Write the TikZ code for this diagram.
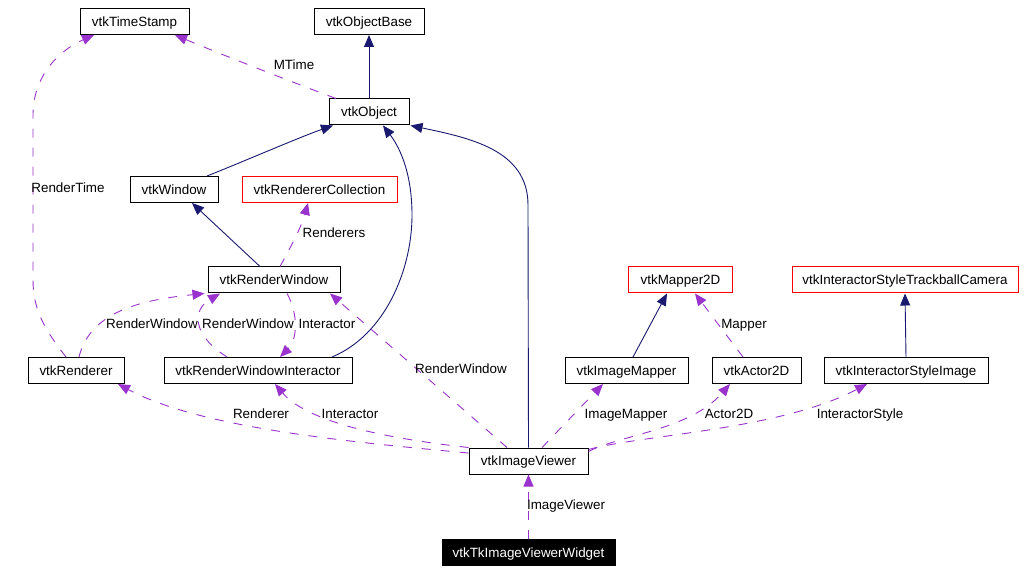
\documentclass[tikz,border=0pt]{standalone}
\usepackage{fontspec}
\setmainfont{Liberation Sans}
\usetikzlibrary{arrows.meta}
\definecolor{inhcol}{HTML}{191970}
\definecolor{usecol}{HTML}{9A32CD}
\tikzset{
  cls/.style={draw=black, line width=1pt, minimum height=26pt, inner sep=0pt, text height=9.6pt, text depth=0pt, font=\fontsize{13.4}{16}\selectfont, fill=white},
  redcls/.style={cls, draw=red},
  blackcls/.style={cls, fill=black, text=white},
  inh/.style={draw=inhcol, line width=0.9pt, -{Triangle[length=12pt,width=10pt]}},
  use/.style={draw=usecol, line width=0.9pt, dash pattern=on 9pt off 10pt, -{Triangle[length=12pt,width=10pt]}},
  lbl/.style={inner sep=0pt, text height=9.6pt, text depth=0pt, font=\fontsize{13.4}{16}\selectfont},
}
\begin{document}
\begin{tikzpicture}[x=1pt,y=-1pt]
\useasboundingbox (0,0) rectangle (1026,572);
\fill[white] (0,0) rectangle (1026,572);

% nodes
\node[cls, minimum width=109pt] (ts) at (134.5,21.5) {vtkTimeStamp};
\node[cls, minimum width=110pt] (objbase) at (369,21.5) {vtkObjectBase};
\node[cls, minimum width=80pt] (obj) at (369,112) {vtkObject};
\node[cls, minimum width=88pt] (win) at (174,189.5) {vtkWindow};
\node[redcls, minimum width=155pt] (rc) at (319.5,189.5) {vtkRendererCollection};
\node[cls, minimum width=132pt] (rw) at (274,280) {vtkRenderWindow};
\node[cls, minimum width=96pt] (rend) at (76,370.5) {vtkRenderer};
\node[cls, minimum width=188pt] (rwi) at (258,370.5) {vtkRenderWindowInteractor};
\node[redcls, minimum width=104pt] (m2d) at (680.5,280) {vtkMapper2D};
\node[redcls, minimum width=226pt] (tc) at (905,280) {vtkInteractorStyleTrackballCamera};
\node[cls, minimum width=123pt] (im) at (626.5,370.5) {vtkImageMapper};
\node[cls, minimum width=89pt] (a2d) at (756.5,370.5) {vtkActor2D};
\node[cls, minimum width=164pt] (isi) at (906,370.5) {vtkInteractorStyleImage};
\node[cls, minimum width=119pt] (iv) at (528.5,461) {vtkImageViewer};
\node[blackcls, minimum width=173pt] (tk) at (528.5,552.5) {vtkTkImageViewerWidget};

% inheritance (solid)
\draw[inh] (obj.north) -- (objbase.south);
\draw[inh] ([xshift=33pt]win.north) .. controls (240,163) and (300,137) .. ([xshift=-36pt]obj.south);
\draw[inh] ([xshift=-14pt]rw.north) -- ([xshift=18pt]win.south);
\draw[inh] ([xshift=74pt]rwi.north) .. controls (385,335) and (412,270) .. (412,215)
   .. controls (412,170) and (398,145) .. ([xshift=14pt]obj.south);
\draw[inh] (iv.north) -- (528,205) .. controls (528,150) and (470,138) .. ([xshift=1pt]obj.south east);
\draw[inh] ([xshift=6.5pt]im.north) -- ([xshift=-13.5pt]m2d.south);
\draw[inh] (isi.north) -- (tc.south);

% usage (dashed)
\draw[use] ([xshift=-33pt]obj.north) .. controls (300,85) and (230,58) .. ([xshift=40.5pt]ts.south);
\draw[use] ([xshift=-10pt]rend.north) .. controls (45,330) and (33,310) .. (33,280) -- (33,115)
   .. controls (33,75) and (60,50) .. ([xshift=-40.5pt]ts.south);
\draw[use] ([xshift=6pt]rw.north) .. controls (292,245) and (302,225) .. ([xshift=-11.5pt]rc.south);
\draw[use] ([xshift=3pt]rend.north) .. controls (90,312) and (140,300) .. ([xshift=-3pt]rw.south west);
\draw[use] ([xshift=-31pt]rwi.north) .. controls (192,335) and (192,310) .. ([xshift=-54pt]rw.south);
\draw[use] ([xshift=13pt]rw.south) .. controls (299,315) and (297,340) .. ([xshift=22pt]rwi.north);
\draw[use] ([xshift=-21.5pt]iv.north) -- ([xshift=56pt]rw.south);
\draw[use] ([yshift=8pt]iv.west) .. controls (350,442) and (200,428) .. ([xshift=42pt]rend.south);
\draw[use] (iv.north west) .. controls (400,440) and (310,425) .. ([xshift=17pt]rwi.south);
\draw[use] ([xshift=13.5pt]iv.north) -- ([xshift=-23.5pt]im.south);
\draw[use] ([yshift=-4pt]iv.north east) .. controls (620,435) and (690,430) .. ([xshift=-26.5pt]a2d.south);
\draw[use] ([yshift=-2pt]iv.north east) .. controls (640,435) and (780,430) .. ([xshift=-39pt]isi.south);
\draw[use] ([xshift=-13.5pt]a2d.north) -- ([xshift=14.5pt]m2d.south);
\draw[use] (tk.north) -- (iv.south);

% labels
\node[lbl] (l1) at (294,65) {MTime};
\node[lbl] (l2) at (68,188) {RenderTime};
\node[lbl] (l3) at (334,233) {Renderers};
\node[lbl] (l4) at (152,324) {RenderWindow};
\node[lbl] (l5) at (248,324) {RenderWindow};
\node[lbl] (l6) at (327,324) {Interactor};
\node[lbl] (l7) at (461,369) {RenderWindow};
\node[lbl] (l8) at (261,414) {Renderer};
\node[lbl] (l9) at (350,414) {Interactor};
\node[lbl] (l10) at (626,414) {ImageMapper};
\node[lbl] (l11) at (729,414) {Actor2D};
\node[lbl] (l12) at (860,414) {InteractorStyle};
\node[lbl] (l13) at (744,324) {Mapper};
\node[lbl] (l14) at (566,505) {ImageViewer};
\end{tikzpicture}
\end{document}
